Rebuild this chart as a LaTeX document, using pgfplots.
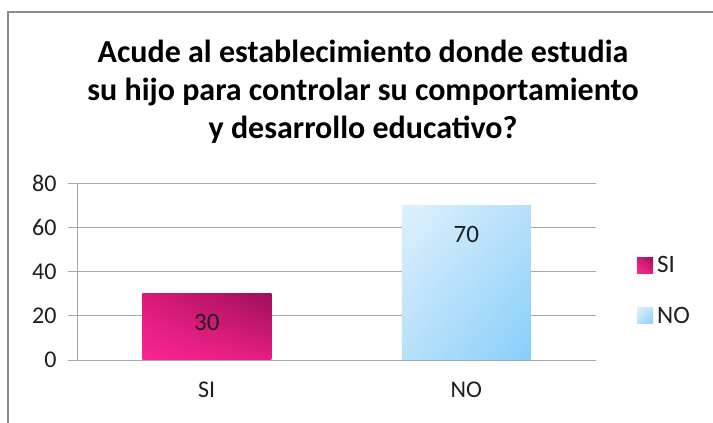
\documentclass[border=0pt]{standalone}
\usepackage{fontspec}
\setmainfont{Carlito}
\usepackage{pgfplots}
\pgfplotsset{compat=1.18}
\usetikzlibrary{shadings}

\definecolor{txt}{HTML}{1E1E1E}
\definecolor{gridc}{HTML}{A8A8A8}
\definecolor{framec}{HTML}{8C8C8C}
% SI bar (pink, dark towards upper right)
\definecolor{siLL}{RGB}{250,38,145}
\definecolor{siUL}{RGB}{218,26,122}
\definecolor{siLR}{RGB}{228,30,128}
\definecolor{siUR}{RGB}{158,15,88}
% NO bar (light blue, darker towards lower right)
\definecolor{noUL}{RGB}{222,240,252}
\definecolor{noUR}{RGB}{182,224,250}
\definecolor{noLL}{RGB}{182,224,250}
\definecolor{noLR}{RGB}{135,206,250}

\begin{document}
\begin{tikzpicture}
\useasboundingbox (0,0) rectangle (713pt,423pt);
% chart frame (only top and left edges are visible)
\draw[framec, line width=1.3pt] (8pt,-5pt) -- (8pt,411pt) -- (720pt,411pt);

% title
\node[anchor=base, text=black, font=\fontsize{32}{38}\selectfont\bfseries] at (363pt,360pt) {Acude al establecimiento donde estudia};
\node[anchor=base, text=black, font=\fontsize{32}{38}\selectfont\bfseries] at (363pt,322pt) {su hijo para controlar su comportamiento};
\node[anchor=base, text=black, font=\fontsize{32}{38}\selectfont\bfseries] at (363pt,284pt) {y desarrollo educativo?};

\begin{axis}[
    at={(77pt,63pt)}, anchor=south west,
    scale only axis, width=519pt, height=177pt,
    xmin=-0.5, xmax=1.5, ymin=0, ymax=80,
    ytick={0,20,40,60,80},
    xtick={0,1}, xticklabels={SI,NO},
    axis lines*=left,
    axis line style={gridc, line width=0.9pt},
    tick align=outside,
    major tick length=9pt,
    y tick style={gridc, line width=0.9pt},
    x tick style={draw=none},
    extra x ticks={-0.5,0.5,1.5},
    extra x tick labels={},
    extra x tick style={x tick style={gridc, line width=0.9pt}, grid=none},
    ymajorgrids,
    grid style={gridc, line width=0.9pt},
    /pgf/number format/assume math mode=true,
    ticklabel style={text=txt, font=\fontsize{24}{28}\selectfont},
    yticklabel style={xshift=-8pt},
    xticklabel style={yshift=-9pt},
    ybar, bar width=129pt, bar shift=0pt,
    nodes near coords,
    every node near coord/.append style={anchor=center, yshift=-29pt, text=txt, font=\fontsize{25}{30}\selectfont},
    legend style={at={(axis description cs:1.079,0.393)}, anchor=west, draw=none, fill=none,
        inner sep=0pt, row sep=25pt, font=\fontsize{25}{30}\selectfont, text=txt,
        nodes={inner sep=4pt}},
    legend cell align=left,
    legend image code/.code={\path[#1, draw=none] (0pt,-8pt) rectangle (16pt,8pt);},
]
\addplot[draw=none, lower left=siLL, upper left=siUL, lower right=siLR, upper right=siUR] coordinates {(0,30)};
\addplot[draw=none, lower left=noLL, upper left=noUL, lower right=noLR, upper right=noUR] coordinates {(1,70)};
\legend{SI,NO}
\end{axis}
\end{tikzpicture}
\end{document}
